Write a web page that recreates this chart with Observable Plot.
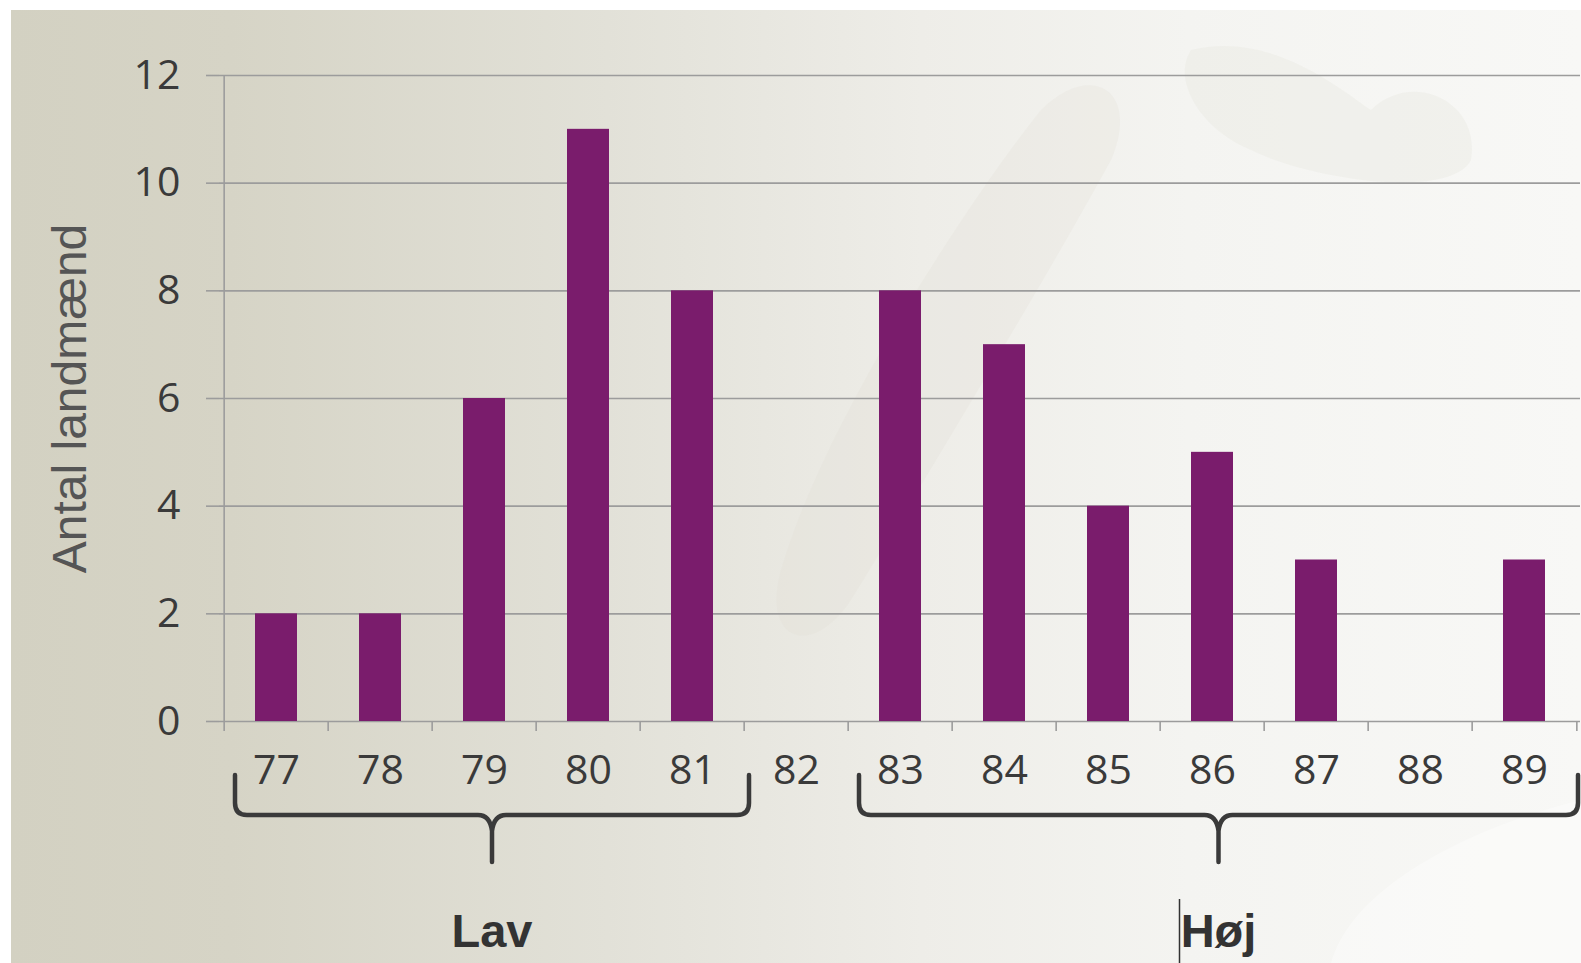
<!DOCTYPE html>
<html>
<head>
<meta charset="utf-8">
<script src="https://cdn.jsdelivr.net/npm/d3@7"></script>
<script src="https://cdn.jsdelivr.net/npm/@observablehq/plot@0.6"></script>
<style>
html, body { margin: 0; padding: 0; overflow: hidden; }
body { width: 1581px; height: 963px; background: #ffffff; position: relative; }
#bg {
  position: absolute; left: 11px; top: 10px; width: 1570px; height: 953px;
  background: linear-gradient(to right, #d3d1c2 0%, #d6d4c6 14%, #e2e1d8 38%, #eeede8 58%, #f4f4f1 75%, #f8f8f6 100%);
  overflow: hidden;
}
#chart { position: absolute; left: 0; top: 0; }
#chart svg { display: block; }
</style>
</head>
<body>
<div id="bg">
  <svg width="1570" height="953" style="position:absolute;left:0;top:0">
    <path d="M1180,40 C1260,20 1330,80 1360,100 C1400,60 1470,90 1460,150 C1440,190 1300,170 1240,140 C1190,120 1160,70 1180,40 Z" fill="#e9e8e2" opacity="0.4"/>
    <path d="M770,560 C810,420 950,200 1030,100 C1080,50 1130,80 1100,150 C1040,260 920,460 840,590 C800,650 750,630 770,560 Z" fill="#dddcd3" opacity="0.22"/>
    <path d="M1320,953 C1340,880 1450,820 1570,790 L1570,953 Z" fill="#ffffff" opacity="0.35"/>
  </svg>
</div>
<div id="chart"></div>
<script>
// ---- data ----
const categories = ["77", "78", "79", "80", "81", "82", "83", "84", "85", "86", "87", "88", "89"];
const counts = [2, 2, 6, 11, 8, 0, 8, 7, 4, 5, 3, 0, 3];
const yTicks = [0, 2, 4, 6, 8, 10, 12];
const yLabel = "Antal landmænd";
const groupLabels = ["Lav", "Høj"];
const groupFrom = ["77", "83"];
const groupTo = ["81", "89"];

// ---- layout ----
const W = 1581, H = 963;
const mLeft = 219, mRight = 1, mTop = 75, mBottom = 242;
const frameH = H - mTop - mBottom;
const step = (W - mLeft - mRight) / categories.length;
const gridColor = "#9c9c9c";
const barColor = "#7a1c6c";
const tickFont = "'Open Sans', 'Noto Sans', sans-serif";

const table = categories.map((c, i) => ({cat: c, n: counts[i]}));

const plot = Plot.plot({
  width: W,
  height: H,
  marginLeft: mLeft,
  marginRight: mRight,
  marginTop: mTop,
  marginBottom: mBottom,
  style: {background: "transparent", fontFamily: tickFont, fontSize: "41px", color: "#3c3c3c", overflow: "visible"},
  x: {domain: categories, paddingInner: 0.6, paddingOuter: 0.3, align: 0.5},
  y: {domain: [0, 12]},
  marks: [
    Plot.gridY(yTicks, {stroke: gridColor, strokeOpacity: 1, strokeWidth: 1.6}),
    Plot.axisY(yTicks, {tickSize: 13, tickPadding: 26, tickFormat: d => String(d), stroke: gridColor, strokeWidth: 1.6, label: null,
      fontSize: 41, fontFamily: tickFont, fill: "#3a3a3a"}),
    Plot.axisX({tickSize: 0, tickPadding: 33, label: null, fontSize: 41, fontFamily: tickFont, fill: "#3a3a3a"}),
    // y axis line (left boundary of first band)
    Plot.ruleX([categories[0]], {x: d => d, dx: -step / 2, insetBottom: -10, stroke: gridColor, strokeWidth: 1.6}),
    // boundary tick marks below the x axis
    Plot.ruleX(categories.slice(1), {x: d => d, dx: -step / 2, insetTop: frameH, insetBottom: -10, stroke: gridColor, strokeWidth: 1.6}),
    Plot.ruleX([categories[categories.length - 1]], {x: d => d, dx: step / 2, insetTop: frameH, insetBottom: -10, stroke: gridColor, strokeWidth: 1.6}),
    Plot.barY(table, {x: "cat", y: "n", fill: barColor}),
    Plot.text([yLabel], {frameAnchor: "left", textAnchor: "middle", lineAnchor: "middle", dx: -149, rotate: -90, text: d => d,
      fontFamily: "'Liberation Sans', Arial, sans-serif", fontSize: 48, fill: "#555555"})
  ]
});

document.getElementById("chart").appendChild(plot);

// ---- group brackets, drawn with the plot's x scale ----
const xs = plot.scale("x");
const bw = xs.bandwidth;
const st = xs.step;
const y0 = H - mBottom; // zero line
const svg = d3.select(plot);
const g = svg.append("g");
groupLabels.forEach((lab, i) => {
  const slotL = xs.apply(groupFrom[i]) - (st - bw) / 2;
  const slotR = xs.apply(groupTo[i]) + bw + (st - bw) / 2;
  const xL = slotL + 11;
  const xR = Math.min(slotR + 5, W - 3);
  const xm = (xL + xR) / 2;
  const yT = y0 + 54, yH = y0 + 94, yP = y0 + 141, r = 12;
  const p = d3.path();
  p.moveTo(xL, yT);
  p.lineTo(xL, yH - r);
  p.quadraticCurveTo(xL, yH, xL + r, yH);
  p.lineTo(xm - 14, yH);
  p.quadraticCurveTo(xm - 2, yH, xm, yH + 16);
  p.lineTo(xm, yP);
  p.moveTo(xm, yH + 16);
  p.quadraticCurveTo(xm + 2, yH, xm + 14, yH);
  p.lineTo(xR - r, yH);
  p.quadraticCurveTo(xR, yH, xR, yH - r);
  p.lineTo(xR, yT);
  g.append("path").attr("d", p.toString()).attr("fill", "none")
    .attr("stroke", "#3a3a3a").attr("stroke-width", 4.5).attr("stroke-linecap", "round").attr("stroke-linejoin", "round");
  g.append("text").attr("x", xm).attr("y", 947).attr("text-anchor", "middle")
    .attr("font-family", "'Liberation Sans', Arial, sans-serif").attr("font-weight", "bold")
    .attr("font-size", 47).attr("fill", "#333333").text(lab);
  if (i === 1) {
    // thin vertical mark just before the "Høj" label, as in the source image
    g.append("line").attr("x1", xm - 39).attr("x2", xm - 39).attr("y1", 899).attr("y2", H)
      .attr("stroke", "#333333").attr("stroke-width", 1.5);
  }
});
</script>
</body>
</html>
